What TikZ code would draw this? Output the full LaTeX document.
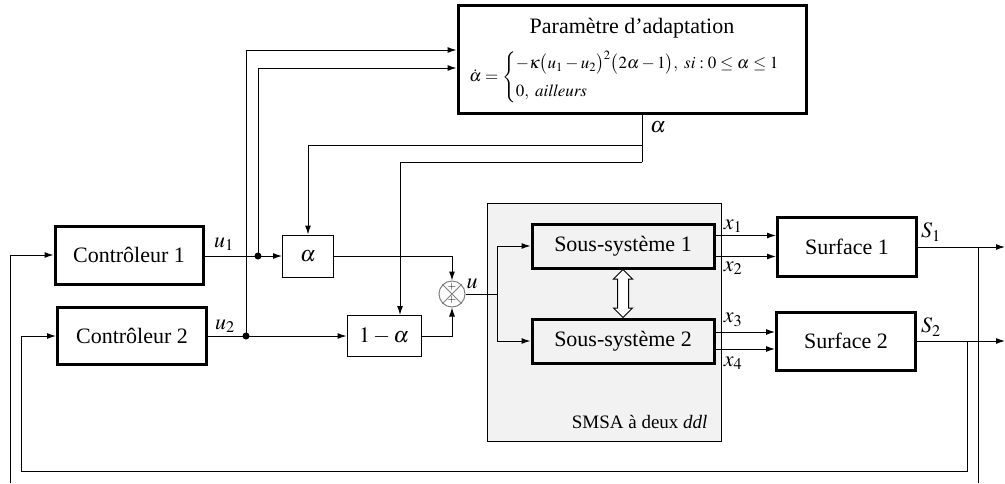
\documentclass[tikz,border=0pt]{standalone}
\usepackage{amsmath}
\usepackage{mathptmx}
\usepackage{fontspec}
\setmainfont{Liberation Serif}
\usepackage{tikz}
\usetikzlibrary{arrows.meta,shapes.arrows,calc}
\definecolor{boxgray}{RGB}{242,242,242}

\begin{document}
\begin{tikzpicture}[x=1pt,y=-1pt,line width=1pt,>={Latex[length=9pt,width=6pt]},
  blk/.style={draw,line width=3pt,inner sep=0pt,font=\fontsize{22}{24}\selectfont},
  sbox/.style={draw,line width=1pt,inner sep=0pt,font=\fontsize{22}{24}\selectfont},
  lbl/.style={inner sep=0pt,font=\fontsize{22}{24}\selectfont}]
  \useasboundingbox (0,0) rectangle (1005,483);
  \node[draw,fill=boxgray,minimum width=234,minimum height=238] (G) at (604,322) {};
  \node[lbl,anchor=base east,font=\fontsize{19}{21}\selectfont] (smsa) at (708,428) {SMSA à deux \textit{ddl}};

  \node[blk,minimum width=148,minimum height=58] (C1) at (129,255) {Contrôleur 1};
  \node[blk,minimum width=149,minimum height=57] (C2) at (132,336) {Contrôleur 2};
  \node[sbox,minimum width=51,minimum height=42] (A) at (308,256) {$\alpha$};
  \node[sbox,minimum width=74,minimum height=41] (B) at (384,336) {$1-\alpha$};
  \node[circle,draw=gray,minimum size=26,inner sep=0pt] (S) at (452,294) {};
  \draw[gray] (S.north west) -- (S.south east) (S.north east) -- (S.south west);
  \node[inner sep=0pt,font=\fontsize{11}{11}\selectfont] (p1) at (452,287) {$+$};
  \node[inner sep=0pt,font=\fontsize{11}{11}\selectfont] (p2) at (452,300) {$+$};
  \node[blk,minimum width=182,minimum height=44] (SS1) at (623,246) {Sous-système 1};
  \node[blk,minimum width=182,minimum height=44] (SS2) at (623,341) {Sous-système 2};
  \node[blk,minimum width=139,minimum height=59] (SF1) at (847,247) {Surface 1};
  \node[blk,minimum width=139,minimum height=58] (SF2) at (846,341) {Surface 2};
  \node[blk,minimum width=348,minimum height=108] (P) at (632,59) {};
  \node[lbl,anchor=base] (Pt) at (632,33) {Paramètre d’adaptation};
  \node[lbl,font=\fontsize{17}{19}\selectfont] (Pe) at (633,77)
    {$\dot{\alpha}=\begin{cases}-\kappa\bigl(u_1-u_2\bigr)^2\bigl(2\alpha-1\bigr),\ si:0\leq\alpha\leq 1\\[5pt] 0,\ \mathit{ailleurs}\end{cases}$};
  \node[double arrow,draw,fill=white,line width=1pt,rotate=90,minimum height=48,
    double arrow head extend=4pt,inner xsep=0pt,inner ysep=5pt] (DA) at ($(SS1.south)!0.5!(SS2.north)$) {};

  \coordinate (D1) at (258,256); \coordinate (D2) at (246,336);
  \draw[->] (C1.east |- A.west) -- (A.west); \draw[->] (C2.east) -- (B.west);
  \draw[->] (D1) |- ([yshift=-9pt]P.west); \draw[->] (D2) |- ([yshift=9pt]P.west);
  \fill (D1) circle (3.5pt); \fill (D2) circle (3.5pt);
  \node[lbl] (lu1) at (224,244) {$u_1$}; \node[lbl] (lu2) at (225,326) {$u_2$};

  \coordinate (Pa) at ([xshift=10pt]P.south); \coordinate (J1) at (642,145); \coordinate (J2) at (642,162);
  \draw (Pa) -- (J2); \draw[->] (J1) -| (A.north); \draw[->] (J2) -| ([xshift=16pt]B.north);
  \node[lbl] (la) at (658,127) {$\alpha$};

  \draw[->] (A.east) -| (S.north); \draw[->] (B.east) -| (S.south);
  \coordinate (U) at (497,294);
  \draw (S.east) -- (U); \draw[->] (U) |- (SS1.west); \draw[->] (U) |- (SS2.west);
  \node[lbl] (lu) at (472,284) {$u$};

  \coordinate (x1s) at ([yshift=10.5pt]SS1.east); \coordinate (x2s) at ([yshift=-10.5pt]SS1.east);
  \coordinate (x3s) at ([yshift=9pt]SS2.east); \coordinate (x4s) at ([yshift=-8pt]SS2.east);
  \draw[->] (x1s) -- (x1s -| SF1.west); \draw[->] (x2s) -- (x2s -| SF1.west);
  \draw[->] (x3s) -- (x3s -| SF2.west); \draw[->] (x4s) -- (x4s -| SF2.west);
  \node[lbl] (lx1) at (733,226) {$x_1$}; \node[lbl] (lx2) at (733,268) {$x_2$};
  \node[lbl] (lx3) at (733,320) {$x_3$}; \node[lbl] (lx4) at (733,363) {$x_4$};

  \coordinate (R1) at (1005,247); \coordinate (R2) at (1005,341);
  \draw[->] (SF1.east) -- (R1); \draw[->] (SF2.east) -- (R2);
  \node[lbl] (ls1) at (931,232) {$S_1$}; \node[lbl] (ls2) at (931,327) {$S_2$};
  \coordinate (T1) at (978,247); \coordinate (T2) at (967,341);
  \coordinate (B1) at (978,483); \coordinate (B2) at (967,471);
  \coordinate (L1) at (10,483); \coordinate (L2) at (21,471);
  \draw (T1) -- (B1); \draw[->] (L1) |- (C1.west);
  \draw[->] (T2) -- (B2) -- (L2) |- (C2.west);
\end{tikzpicture}
\end{document}
